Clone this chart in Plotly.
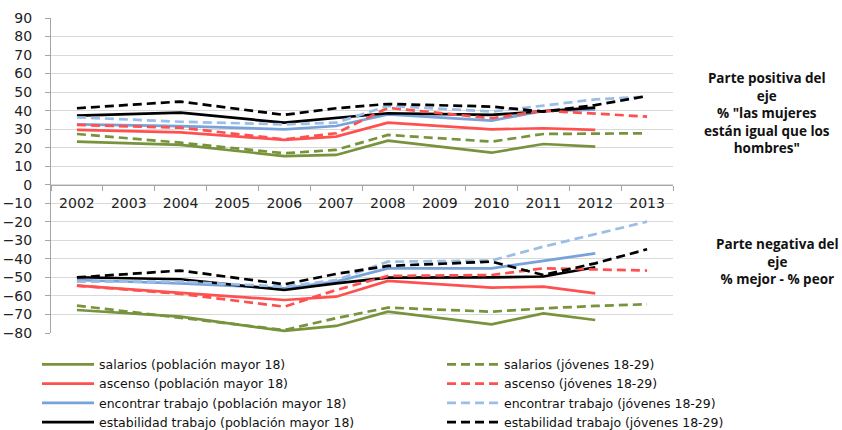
import plotly.graph_objects as go

years_all = [str(y) for y in range(2002, 2014)]
years_mayor = ["2002", "2004", "2006", "2007", "2008", "2010", "2011", "2012"]
years_jov = ["2002", "2004", "2006", "2007", "2008", "2010", "2011", "2012", "2013"]

# Parte positiva: % "las mujeres están igual que los hombres"
salarios_mayor_pos = [23.3, 21.5, 15.5, 16.1, 23.8, 17.3, 22.0, 20.6]
salarios_jov_pos = [27.4, 22.7, 17.0, 18.8, 26.9, 23.3, 27.4, 27.8, 27.8]
ascenso_mayor_pos = [29.6, 28.3, 24.2, 26.0, 33.5, 29.9, 30.5, 29.6]
ascenso_jov_pos = [32.3, 30.8, 24.5, 27.8, 41.5, 35.9, 40.0, 38.6, 36.8]
encontrar_mayor_pos = [32.6, 31.7, 29.9, 31.7, 38.0, 34.6, 39.8, 40.5]
encontrar_jov_pos = [36.4, 34.0, 32.6, 33.5, 42.5, 39.5, 42.7, 46.1, 47.6]
estabilidad_mayor_pos = [37.3, 38.9, 33.5, 35.9, 38.6, 37.7, 39.8, 41.6]
estabilidad_jov_pos = [41.3, 44.9, 37.7, 41.3, 43.6, 42.2, 39.5, 43.0, 47.9]

# Parte negativa: % mejor - % peor
salarios_mayor_neg = [-67.6, -71.2, -78.9, -76.2, -68.5, -75.3, -69.4, -73.0]
salarios_jov_neg = [-65.2, -72.0, -78.4, -72.0, -66.3, -68.5, -66.7, -65.4, -64.5]
ascenso_mayor_neg = [-54.4, -58.2, -62.2, -60.4, -51.9, -55.5, -55.0, -58.6]
ascenso_jov_neg = [-54.4, -58.9, -65.8, -56.8, -49.2, -48.7, -45.1, -45.6, -46.3]
encontrar_mayor_neg = [-51.4, -53.2, -55.9, -52.3, -45.1, -45.1, -41.1, -37.0]
encontrar_jov_neg = [-52.3, -52.3, -55.0, -51.4, -41.5, -40.9, -33.4, -26.7, -19.9]
estabilidad_mayor_neg = [-49.9, -51.0, -56.8, -53.2, -50.1, -50.0, -49.5, -44.5]
estabilidad_jov_neg = [-50.0, -46.3, -53.7, -48.1, -43.8, -41.5, -48.7, -42.4, -34.8]

GREEN = "#77933C"
RED = "#FF5050"
BLUE = "#77A2DA"
LBLUE = "#9BBDE6"
BLACK = "#000000"
DASH = "9px,5px"

series = [
    ("salarios (población mayor 18)", years_mayor, salarios_mayor_pos, salarios_mayor_neg, GREEN, "solid", "legend"),
    ("ascenso (población mayor 18)", years_mayor, ascenso_mayor_pos, ascenso_mayor_neg, RED, "solid", "legend"),
    ("encontrar trabajo (población mayor 18)", years_mayor, encontrar_mayor_pos, encontrar_mayor_neg, BLUE, "solid", "legend"),
    ("estabilidad trabajo (población mayor 18)", years_mayor, estabilidad_mayor_pos, estabilidad_mayor_neg, BLACK, "solid", "legend"),
    ("salarios (jóvenes 18-29)", years_jov, salarios_jov_pos, salarios_jov_neg, GREEN, DASH, "legend2"),
    ("ascenso (jóvenes 18-29)", years_jov, ascenso_jov_pos, ascenso_jov_neg, RED, DASH, "legend2"),
    ("encontrar trabajo (jóvenes 18-29)", years_jov, encontrar_jov_pos, encontrar_jov_neg, LBLUE, DASH, "legend2"),
    ("estabilidad trabajo (jóvenes 18-29)", years_jov, estabilidad_jov_pos, estabilidad_jov_neg, BLACK, DASH, "legend2"),
]

fig = go.Figure()
for name, xs, pos, neg, color, dash, leg in series:
    for i, vals in enumerate((pos, neg)):
        fig.add_trace(go.Scatter(
            x=xs, y=vals, mode="lines", name=name,
            line=dict(color=color, width=2.7, dash=dash),
            legendgroup=name, showlegend=(i == 0), legend=leg,
        ))

legend_font = dict(family="DejaVu Sans, sans-serif", size=12.5, color="#111")
legend_common = dict(xanchor="left", yanchor="top", orientation="v", itemwidth=52,
                     font=legend_font, tracegroupgap=0, bgcolor="rgba(0,0,0,0)")
fig.update_layout(
    width=842, height=430,
    margin=dict(l=51, r=169, t=18, b=97, autoexpand=False),
    paper_bgcolor="white", plot_bgcolor="white",
    showlegend=True,
    legend=dict(x=-0.0225, y=-0.053, **legend_common),
    legend2=dict(x=0.6286, y=-0.053, **legend_common),
    xaxis=dict(
        type="category", categoryorder="array", categoryarray=years_all,
        range=[-0.5, 11.5], anchor="free", position=80 / 170,
        showline=True, linecolor="#A6A6A6", linewidth=1,
        ticks="outside", tickson="boundaries", ticklen=5, tickcolor="#A6A6A6",
        ticklabelstandoff=5,
        showgrid=False, zeroline=False,
        tickfont=dict(family="DejaVu Sans", size=14, color="#222"),
    ),
    yaxis=dict(
        range=[-80, 90], dtick=10, tick0=0,
        showline=True, linecolor="#A6A6A6", linewidth=1,
        ticks="outside", ticklen=5, tickcolor="#A6A6A6",
        ticklabelstandoff=10,
        gridcolor="#D9D9D9", zeroline=False,
        tickfont=dict(family="DejaVu Sans", size=14, color="#222"),
    ),
)

ann_font = dict(family="Open Sans, sans-serif", size=13.5, color="#111")
fig.add_annotation(
    xref="paper", yref="paper", x=(767 - 51) / 622, y=(333 - 113) / 315,
    text="<b>Parte positiva del<br>eje<br>% \"las mujeres<br>están igual que los<br>hombres\"</b>",
    showarrow=False, align="center", xanchor="center", yanchor="middle", font=ann_font,
)
fig.add_annotation(
    xref="paper", yref="paper", x=(777 - 51) / 622, y=(333 - 261) / 315,
    text="<b>Parte negativa del<br>eje<br>% mejor - % peor</b>",
    showarrow=False, align="center", xanchor="center", yanchor="middle", font=ann_font,
)

fig.write_html("out.html", config={"displayModeBar": False},
               post_script="document.body.style.margin='0px';")
